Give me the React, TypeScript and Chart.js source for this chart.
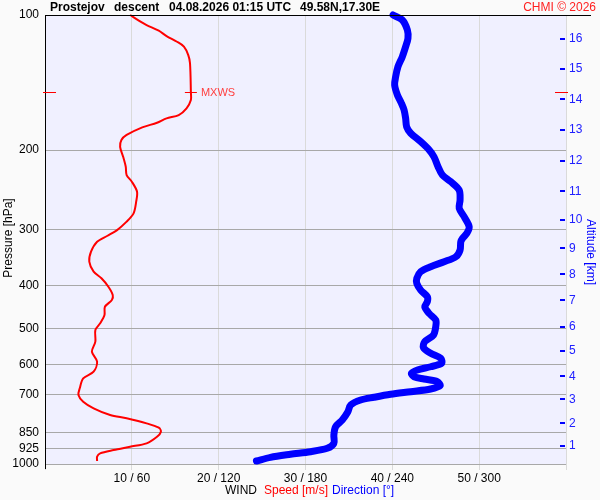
import React, { useEffect, useRef } from 'react';
import { Chart, registerables } from 'chart.js';

Chart.register(...registerables);

// Wind speed profile [m/s] vs pressure [hPa]
const speedPressure = [100, 103.5, 105.3, 108.4, 111.4, 114.7, 117.6, 122.8, 128.1, 148.4, 154.7, 161.4, 167.1, 169.9, 173.8, 177.9, 185.0, 189.8, 196.6, 206.9, 217.7, 227.2, 235.1, 247.5, 260.5, 276.5, 288.6, 301.3, 310.2, 319.9, 336.7, 354.4, 372.9, 385.8, 402.9, 420.4, 431.3, 446.5, 465.9, 486.1, 503.0, 534.1, 562.2, 591.8, 623.0, 644.5, 678.4, 702.1, 726.6, 751.6, 777.9, 791.2, 811.8, 830.3, 847.5, 869.5, 899.4, 915.3, 930.9, 946.9, 963.2, 984.7];
const speedValues = [9.8, 11.0, 11.7, 13.1, 14.0, 15.2, 16.0, 16.5, 16.7, 16.8, 16.8, 16.3, 15.4, 14.0, 12.9, 11.2, 9.4, 8.8, 8.65, 9.0, 9.3, 9.4, 10.0, 10.6, 10.5, 10.2, 9.4, 8.3, 7.2, 6.0, 5.3, 5.1, 5.6, 6.5, 7.3, 7.8, 7.7, 6.9, 6.85, 6.35, 5.8, 5.8, 5.4, 6.0, 5.6, 4.4, 4.0, 3.85, 4.4, 5.6, 7.5, 9.4, 11.7, 13.1, 13.35, 12.9, 11.7, 9.8, 7.9, 6.35, 6.0, 6.0];

// Wind direction profile [deg] vs pressure [hPa]
const dirPressure = [100, 102.6, 108.0, 112.7, 117.6, 123.8, 130.3, 137.2, 143.2, 150.7, 157.3, 162.7, 169.9, 177.4, 183.4, 191.5, 199.7, 206.9, 217.7, 227.2, 235.1, 245.4, 258.2, 269.4, 281.3, 296.2, 306.4, 314.4, 319.9, 333.8, 345.4, 354.4, 363.6, 372.9, 385.8, 396.0, 409.9, 424.2, 435.1, 446.5, 461.9, 478.0, 494.7, 516.2, 534.1, 550.8, 566.9, 581.6, 596.7, 607.3, 617.6, 628.2, 639.1, 646.7, 655.7, 669.3, 680.8, 690.2, 699.5, 710.3, 720.3, 739.0, 764.8, 798.0, 826.0, 861.9, 899.4, 922.6, 938.9, 951.5, 966.3, 984.7];
const dirValues = [240.5, 246.9, 250.4, 250.8, 249.2, 246.9, 243.9, 242.3, 241.6, 243.5, 246.3, 248.1, 249.2, 249.9, 252.7, 259.6, 265.4, 268.8, 271.6, 274.6, 280.4, 286.2, 286.8, 286.2, 289.6, 293.1, 291.5, 288.5, 287.3, 286.8, 283.9, 275.8, 266.5, 259.6, 256.9, 256.9, 259.6, 264.2, 264.2, 262.4, 265.4, 270.0, 270.0, 268.4, 262.4, 261.5, 266.5, 273.5, 274.0, 266.5, 257.3, 253.2, 255.0, 261.9, 271.2, 273.0, 266.5, 252.7, 238.8, 227.3, 218.1, 211.2, 209.3, 205.4, 200.8, 199.6, 199.6, 195.0, 183.5, 169.6, 155.8, 146.1];

// Axis ticks
const pressureTicks = [100, 200, 300, 400, 500, 600, 700, 850, 925, 1000];
const speedTicks = [0, 10, 20, 30, 40, 50, 60];
const dirTicks = [0, 60, 120, 180, 240, 300, 360];
const altitudeKm = [1, 2, 3, 4, 5, 6, 7, 8, 9, 10, 11, 12, 13, 14, 15, 16];
const altitudePressure = [912, 812, 718, 638, 560, 495, 432, 378, 331, 286, 247, 211, 180, 154, 132, 113];

// Max wind
const mxwsPressure = 148.4;
const mxwsSpeed = 16.8;

const FONT = '"Liberation Sans", Arial, sans-serif';

const decoPlugin = {
  id: 'deco',
  beforeDraw(chart: any) {
    const { ctx, chartArea: a } = chart;
    ctx.save();
    ctx.fillStyle = '#fafafa';
    ctx.fillRect(0, 0, chart.width, chart.height);
    ctx.fillStyle = '#f0f0ff';
    ctx.fillRect(a.left, a.top, a.right - a.left, a.bottom - a.top);
    ctx.restore();
  },
  afterDraw(chart: any) {
    const { ctx, chartArea: a } = chart;
    const yS = chart.scales.y;
    const xS = chart.scales.x;
    const altS = chart.scales.yAlt;
    ctx.save();
    // top border
    ctx.strokeStyle = '#000';
    ctx.lineWidth = 1;
    ctx.beginPath();
    ctx.moveTo(a.left, Math.round(a.top) + 0.5);
    ctx.lineTo(591, Math.round(a.top) + 0.5);
    ctx.stroke();
    // left axis extension
    ctx.beginPath();
    ctx.moveTo(Math.round(a.left) + 0.5, a.bottom);
    ctx.lineTo(Math.round(a.left) + 0.5, a.bottom + 5);
    ctx.stroke();

    // altitude dashes
    ctx.strokeStyle = '#0000ff';
    ctx.lineWidth = 2;
    altS.ticks.forEach((t: any) => {
      const y = Math.round(altS.getPixelForValue(t.value));
      ctx.beginPath();
      ctx.moveTo(a.right - 6, y);
      ctx.lineTo(a.right - 1, y);
      ctx.stroke();
    });

    // MXWS
    const my = Math.round(yS.getPixelForValue(mxwsPressure)) + 0.5;
    const mx = xS.getPixelForValue(mxwsSpeed);
    ctx.strokeStyle = '#ff0000';
    ctx.lineWidth = 1;
    ctx.beginPath();
    ctx.moveTo(mx - 6, my); ctx.lineTo(mx + 6, my);
    ctx.moveTo(a.left - 2, my); ctx.lineTo(a.left + 11, my);
    ctx.moveTo(a.right - 11, my); ctx.lineTo(a.right + 2, my);
    ctx.stroke();
    ctx.fillStyle = '#ff4040';
    ctx.font = `11px ${FONT}`;
    ctx.textBaseline = 'middle';
    ctx.textAlign = 'left';
    ctx.fillText('MXWS', mx + 10, my);

    // title
    ctx.fillStyle = '#000';
    ctx.font = `bold 12px ${FONT}`;
    ctx.textBaseline = 'alphabetic';
    ctx.fillText('Prostejov', 50, 11);
    ctx.fillText('descent', 114, 11);
    ctx.fillText('04.08.2026 01:15 UTC', 169, 11);
    ctx.fillText('49.58N,17.30E', 300, 11);
    ctx.fillStyle = '#ff2020';
    ctx.font = `12px ${FONT}`;
    ctx.textAlign = 'right';
    ctx.fillText('CHMI \u00a9 2026', 596, 11);

    // bottom legend
    ctx.textAlign = 'left';
    ctx.textBaseline = 'middle';
    ctx.fillStyle = '#000';
    ctx.fillText('WIND', 225, 491);
    ctx.fillStyle = '#ff0000';
    ctx.fillText('Speed [m/s]', 264, 491);
    ctx.fillStyle = '#0000ff';
    ctx.fillText('Direction [\u00b0]', 332, 491);

    // axis titles
    ctx.textAlign = 'center';
    ctx.fillStyle = '#000';
    ctx.save();
    ctx.translate(9, 238);
    ctx.rotate(-Math.PI / 2);
    ctx.fillText('Pressure [hPa]', 0, 0);
    ctx.restore();
    ctx.fillStyle = '#0000ff';
    ctx.save();
    ctx.translate(590, 252);
    ctx.rotate(Math.PI / 2);
    ctx.fillText('Altitude [km]', 0, 0);
    ctx.restore();

    ctx.restore();
  },
};

export default function App() {
  const ref = useRef<HTMLCanvasElement>(null);
  useEffect(() => {
    document.body.style.margin = '0';
    const canvas = ref.current!;
    const chart = new Chart(canvas, {
      type: 'scatter',
      data: {
        datasets: [
          {
            label: 'Direction',
            data: dirPressure.map((p, i) => ({ x: dirValues[i], y: p })),
            xAxisID: 'x2',
            yAxisID: 'y',
            showLine: true,
            borderColor: '#0000ff',
            backgroundColor: '#0000ff',
            borderWidth: 7,
            borderCapStyle: 'round',
            borderJoinStyle: 'round',
            pointRadius: 0,
            tension: 0.3,
            clip: false,
          } as any,
          {
            label: 'Speed',
            data: speedPressure.map((p, i) => ({ x: speedValues[i], y: p })),
            xAxisID: 'x',
            yAxisID: 'y',
            showLine: true,
            borderColor: '#ff0000',
            backgroundColor: '#ff0000',
            borderWidth: 2,
            pointRadius: 0,
            tension: 0.3,
            clip: false,
          } as any,
        ],
      },
      options: {
        animation: false,
        responsive: false,
        devicePixelRatio: 1,
        layout: { padding: { top: 15, left: 0, right: 0, bottom: 0 } },
        plugins: { legend: { display: false }, tooltip: { enabled: false } },
        scales: {
          x: {
            type: 'linear',
            position: 'bottom',
            min: 0,
            max: 60,
            afterBuildTicks: (s: any) => { s.ticks = speedTicks.map((v) => ({ value: v })); },
            afterFit: (s: any) => { s.height = 36; },
            grid: { color: '#dadada', tickColor: '#dadada', tickLength: 6, lineWidth: 1 },
            border: { display: false },
            ticks: {
              autoSkip: false,
              maxRotation: 0,
              padding: 1,
              color: '#000',
              font: { family: FONT, size: 12 },
              callback: (v: any, i: number) =>
                i === 0 || i === speedTicks.length - 1 ? '' : `${speedTicks[i]} / ${dirTicks[i]}`,
            },
          },
          x2: {
            type: 'linear',
            display: false,
            min: 0,
            max: 360,
          },
          y: {
            type: 'logarithmic',
            position: 'left',
            min: 100,
            max: 1000,
            reverse: true,
            afterBuildTicks: (s: any) => { s.ticks = pressureTicks.map((v) => ({ value: v })); },
            afterFit: (s: any) => { s.width = 45; },
            grid: { color: '#a8a8a8', drawTicks: false, lineWidth: 1 },
            border: { display: true, color: '#000', width: 1 },
            ticks: {
              autoSkip: false,
              padding: 6,
              color: '#000',
              font: { family: FONT, size: 12 },
              callback: (v: any, i: number) => String(pressureTicks[i]),
            },
          },
          yAlt: {
            type: 'logarithmic',
            position: 'right',
            min: 100,
            max: 1000,
            reverse: true,
            afterBuildTicks: (s: any) => { s.ticks = altitudePressure.map((v) => ({ value: v })); },
            afterFit: (s: any) => { s.width = 34; },
            grid: { drawOnChartArea: false, drawTicks: false },
            border: { display: true, color: '#dadada', width: 1 },
            ticks: {
              autoSkip: false,
              padding: 3,
              color: '#2020ff',
              font: { family: FONT, size: 12 },
              callback: (v: any, i: number) => String(altitudeKm[i]),
            },
          },
        } as any,
      },
      plugins: [decoPlugin],
    } as any);
    return () => chart.destroy();
  }, []);
  return (
    <div style={{ width: 600, height: 500 }}>
      <canvas ref={ref} width={600} height={500} style={{ display: 'block' }} />
    </div>
  );
}
